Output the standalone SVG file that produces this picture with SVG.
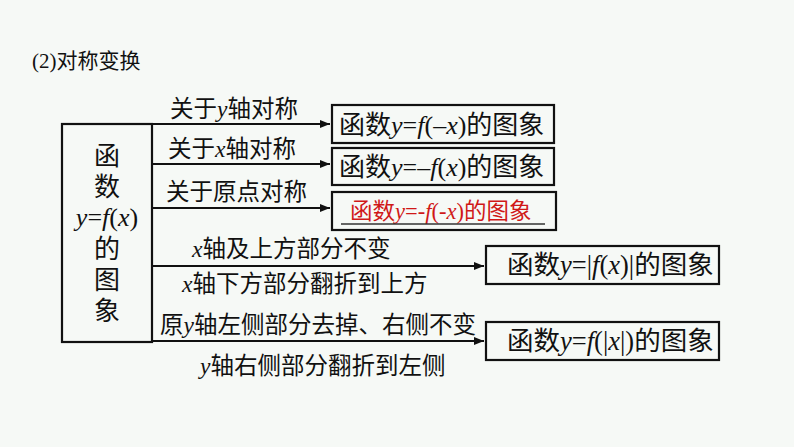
<svg xmlns="http://www.w3.org/2000/svg" width="794" height="447" viewBox="0 0 794 447">
<style>
.t{font-family:"Liberation Serif","Noto Sans CJK SC",serif;fill:#111}
.b{fill:none;stroke:#111;stroke-width:2.2}
.l{stroke:#111;stroke-width:2;fill:none}
.i{font-style:italic}
</style>
<defs><marker id="a" markerWidth="10" markerHeight="8" refX="10" refY="4" orient="auto" markerUnits="userSpaceOnUse"><path d="M0,0L10,4L0,8z" fill="#111"/></marker></defs>
<rect width="794" height="447" fill="#f6f9f6"/>
<text class="t" x="32" y="68" font-size="21">(2)对称变换</text>
<g id="src"><rect class="b" x="62" y="124" width="90" height="218"/>
<text class="t" font-size="26" text-anchor="middle"><tspan x="107" y="165">函</tspan><tspan x="107" y="196">数</tspan><tspan x="107" y="226"><tspan class="i">y</tspan>=<tspan class="i">f</tspan>(<tspan class="i">x</tspan>)</tspan><tspan x="107" y="258">的</tspan><tspan x="107" y="289">图</tspan><tspan x="107" y="320">象</tspan></text></g>
<g id="connectors">
<path class="l" d="M152 124H330" marker-end="url(#a)"/>
<path class="l" d="M152 164H330" marker-end="url(#a)"/>
<path class="l" d="M152 208H330" marker-end="url(#a)"/>
<path class="l" d="M152 266H484" marker-end="url(#a)"/>
<path class="l" d="M152 341H484" marker-end="url(#a)"/>
<text class="t" font-size="23.5"><tspan x="170" y="117">关于<tspan class="i">y</tspan>轴对称</tspan><tspan x="168" y="157">关于<tspan class="i">x</tspan>轴对称</tspan><tspan x="166" y="200">关于原点对称</tspan><tspan x="192" y="257"><tspan class="i">x</tspan>轴及上方部分不变</tspan><tspan x="182" y="292"><tspan class="i">x</tspan>轴下方部分翻折到上方</tspan><tspan x="160" y="333">原<tspan class="i">y</tspan>轴左侧部分去掉、右侧不变</tspan><tspan x="200" y="374"><tspan class="i">y</tspan>轴右侧部分翻折到左侧</tspan></text>
</g>
<g id="n1"><rect class="b" x="332" y="105" width="222" height="38"/><text class="t" x="339" y="134" font-size="26">函数<tspan class="i">y</tspan>=<tspan class="i">f</tspan>(–<tspan class="i">x</tspan>)的图象</text></g>
<g id="n2"><rect class="b" x="332" y="148" width="222" height="37"/><text class="t" x="339" y="176" font-size="26">函数<tspan class="i">y</tspan>=–<tspan class="i">f</tspan>(<tspan class="i">x</tspan>)的图象</text></g>
<g id="n3"><rect class="b" x="332" y="192" width="224" height="38"/><text class="t" x="350" y="219" font-size="22.5" style="fill:#d01818">函数<tspan class="i">y</tspan>=-<tspan class="i">f</tspan>(-<tspan class="i">x</tspan>)的图象</text><path d="M341 224H545" stroke="#333" stroke-width="1.5"/></g>
<g id="n4"><rect class="b" x="486" y="246" width="233" height="38"/><text class="t" x="507" y="274" font-size="26.5">函数<tspan class="i">y</tspan>=|<tspan class="i">f</tspan>(<tspan class="i">x</tspan>)|的图象</text></g>
<g id="n5"><rect class="b" x="486" y="322" width="233" height="38"/><text class="t" x="507" y="350" font-size="26.5">函数<tspan class="i">y</tspan>=<tspan class="i">f</tspan>(|<tspan class="i">x</tspan>|)的图象</text></g>
</svg>
